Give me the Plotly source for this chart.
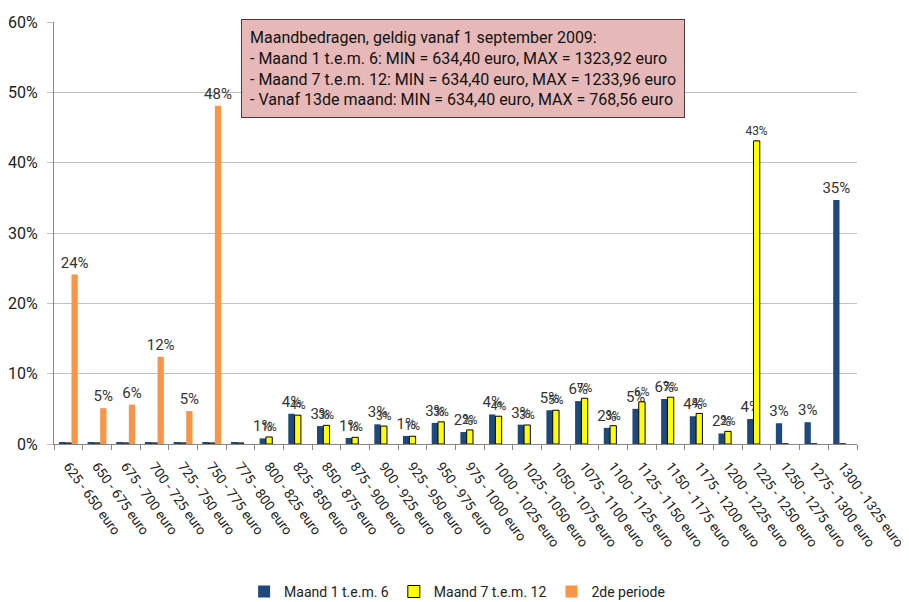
import math
import plotly.graph_objects as go

categories = ["625 - 650 euro", "650 - 675 euro", "675 - 700 euro", "700 - 725 euro",
              "725 - 750 euro", "750 - 775 euro", "775 - 800 euro", "800 - 825 euro",
              "825 - 850 euro", "850 - 875 euro", "875 - 900 euro", "900 - 925 euro",
              "925 - 950 euro", "950 - 975 euro", "975 - 1000 euro", "1000 - 1025 euro",
              "1025 - 1050 euro", "1050 - 1075 euro", "1075 - 1100 euro", "1100 - 1125 euro",
              "1125 - 1150 euro", "1150 - 1175 euro", "1175 - 1200 euro", "1200 - 1225 euro",
              "1225 - 1250 euro", "1250 - 1275 euro", "1275 - 1300 euro", "1300 - 1325 euro"]

maand_1_6 = [0.15, 0.15, 0.15, 0.15, 0.15, 0.15, 0.15, 0.8, 4.3, 2.55, 0.85, 2.8, 1.15, 3.0,
             1.7, 4.2, 2.75, 4.8, 6.1, 2.3, 5.0, 6.4, 3.95, 1.5, 3.55, 2.95, 3.1, 34.7]
maand_7_12 = [0.15, 0.15, 0.15, 0.15, 0.15, 0.15, 0.15, 1.0, 4.1, 2.65, 0.95, 2.55, 1.1, 3.15,
              2.0, 3.95, 2.7, 4.8, 6.5, 2.6, 6.0, 6.65, 4.35, 1.8, 43.1, 0, 0, 0]
tweede_periode = [24.1, 5.1, 5.6, 12.4, 4.7, 48.1, 0, 0, 0, 0, 0, 0, 0, 0,
                  0, 0, 0, 0, 0, 0, 0, 0, 0, 0, 0, 0, 0, 0]

series_names = ["Maand 1 t.e.m. 6", "Maand 7 t.e.m. 12", "2de periode"]

box_text = ("Maandbedragen, geldig vanaf 1 september 2009:<br>"
            "- Maand 1 t.e.m. 6: MIN = 634,40 euro, MAX = 1323,92 euro<br>"
            "- Maand 7 t.e.m. 12: MIN = 634,40 euro, MAX = 1233,96 euro<br>"
            "- Vanaf 13de maand: MIN = 634,40 euro, MAX = 768,56 euro")

FONT = "Roboto, Liberation Sans, sans-serif"


def labels(vals):
    return [f"{int(math.floor(v + 0.5))}%" if v >= 0.5 else "" for v in vals]


fig = go.Figure()
specs = [
    (maand_1_6, "#1f497d", "#1f497d", 0, 15),
    (maand_7_12, "#ffff00", "#000000", 1, 12),
    (tweede_periode, "#f79646", "#f79646", 0, 15),
]
for (vals, color, line, lw, fs), name in zip(specs, series_names):
    fig.add_trace(go.Bar(
        x=categories, y=vals, name=name,
        marker=dict(color=color, line=dict(color=line, width=lw)),
        text=labels(vals), textposition="outside", constraintext="none",
        textfont=dict(family=FONT, size=fs, color="#333333"),
        cliponaxis=False,
    ))

fig.add_annotation(
    text=box_text, xref="paper", yref="paper", x=0.233, y=1.007,
    xanchor="left", yanchor="top", align="left", showarrow=False,
    font=dict(family=FONT, size=16, color="#111111"),
    bgcolor="#e6b9b8", bordercolor="#404040", borderwidth=1, borderpad=8,
)

fig.update_layout(
    width=901, height=594,
    margin=dict(l=46, r=52, t=14, b=158, autoexpand=False),
    paper_bgcolor="white", plot_bgcolor="white",
    barmode="group", bargap=0.34, bargroupgap=0,
    font=dict(family=FONT, size=14, color="#222222"),
    showlegend=True,
    legend=dict(orientation="h", x=0.502, xanchor="center", yref="container",
                y=0.017, yanchor="middle",
                font=dict(family=FONT, size=14, color="#222222"), traceorder="normal"),
    xaxis=dict(type="category", tickangle=54, showline=True, linecolor="#868686",
               ticks="outside", tickson="boundaries", ticklen=5, tickcolor="#868686",
               showgrid=False, automargin=False, ticklabelstandoff=8,
               tickfont=dict(family=FONT, size=13.5, color="#222222")),
    yaxis=dict(range=[0, 60], dtick=10, ticksuffix="%", showline=True, linecolor="#868686",
               ticks="outside", ticklen=6, tickcolor="#c0c0c0",
               gridcolor="#c0c0c0", gridwidth=1, zeroline=False, automargin=False,
               ticklabelstandoff=6,
               tickfont=dict(family=FONT, size=16, color="#222222")),
)

fig.write_html("out.html")
